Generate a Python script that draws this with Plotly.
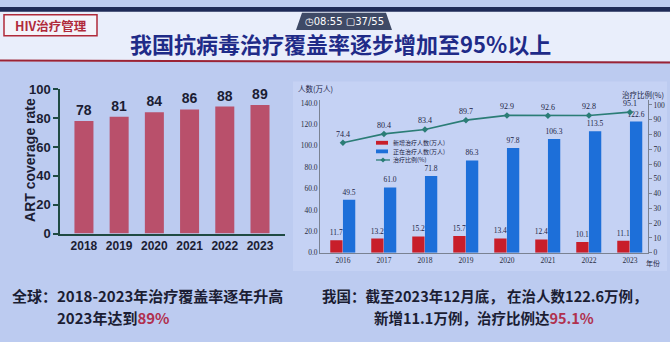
import plotly.graph_objects as go

# ---- data ----
global_years = ["2018", "2019", "2020", "2021", "2022", "2023"]
global_coverage = [78, 81, 84, 86, 88, 89]

cn_years = ["2016", "2017", "2018", "2019", "2020", "2021", "2022", "2023"]
cn_new = [11.7, 13.2, 15.2, 15.7, 13.4, 12.4, 10.1, 11.1]
cn_on = [49.5, 61.0, 71.8, 86.3, 97.8, 106.3, 113.5, 122.6]
cn_ratio = [74.4, 80.4, 83.4, 89.7, 92.9, 92.6, 92.8, 95.1]
legend_names = ["新增治疗人数(万人)", "正在治疗人数(万人)", "治疗比例(%)"]

W, H = 670, 342
def px(x): return x / W
def py(y): return 1 - y / H

BG = "#bccbf0"
DARK = "#1b1d33"
CJK = "Noto Sans CJK SC"
SANS = "Liberation Sans"
SERIF = "Liberation Serif"
RED = "#c81e2a"
BLUE = "#1d6fd9"
TEAL = "#2b7d76"

fig = go.Figure()

# left chart bars
fig.add_trace(go.Bar(
    x=global_years, y=global_coverage, xaxis="x", yaxis="y",
    marker=dict(color="#b9506b", line=dict(width=0)), width=0.54,
    text=global_coverage, textposition="outside", cliponaxis=False, constraintext="none",
    textfont=dict(family=SANS, size=14, color=DARK, weight="bold"), showlegend=False,
))

# right chart bars
fig.add_trace(go.Bar(
    x=cn_years, y=cn_new, xaxis="x2", yaxis="y2", name=legend_names[0],
    marker=dict(color=RED, line=dict(width=0)), width=0.3, offset=-0.31,
    text=[f"{v:.1f}" for v in cn_new], textposition="outside", cliponaxis=False,
    constraintext="none",
    textfont=dict(family=SERIF, size=7.5, color="#1c1f45"), showlegend=False,
))
fig.add_trace(go.Bar(
    x=cn_years, y=cn_on, xaxis="x2", yaxis="y2", name=legend_names[1],
    marker=dict(color=BLUE, line=dict(width=0)), width=0.3, offset=0.0,
    text=[f"{v:.1f}" for v in cn_on], textposition="outside", cliponaxis=False,
    constraintext="none",
    textfont=dict(family=SERIF, size=7.5, color="#1c1f45"), showlegend=False,
))
fig.add_trace(go.Scatter(
    x=cn_years, y=cn_ratio, xaxis="x2", yaxis="y3", name=legend_names[2],
    mode="lines+markers+text", line=dict(color=TEAL, width=1.6),
    marker=dict(symbol="diamond", size=5, color=TEAL),
    text=[f"{v:.1f}" for v in cn_ratio], textposition="top center", cliponaxis=False,
    textfont=dict(family=SERIF, size=8, color="#1c1f45"), showlegend=False,
))

axis_col = "#1f4a42"
grey = "#7a8292"

layout = dict(
    width=W, height=H, margin=dict(l=0, r=0, t=0, b=0),
    paper_bgcolor=BG, plot_bgcolor="rgba(0,0,0,0)",
    barmode="overlay", showlegend=False,
    xaxis=dict(domain=[px(60), px(285)], range=[-0.68, 5.71], type="category",
               showline=True, linecolor=axis_col, linewidth=1.5, ticks="",
               tickfont=dict(family=SANS, size=12, color=DARK, weight="bold"), showgrid=False,
               anchor="y"),
    yaxis=dict(domain=[py(237), py(86)], range=[0, 100], tickvals=[0, 20, 40, 60, 80, 100],
               showline=True, linecolor=axis_col, linewidth=1.5, ticks="outside",
               ticklen=5, tickcolor=axis_col, tickwidth=1.5,
               tickfont=dict(family=SANS, size=13, color=DARK, weight="bold"), showgrid=False,
               zeroline=False, anchor="x"),
    xaxis2=dict(domain=[px(320), px(648)], range=[-0.56, 7.44], type="category",
                showline=True, linecolor=grey, linewidth=1, ticks="",
                tickfont=dict(family=SERIF, size=7.5, color="#2a2d40"), showgrid=False,
                anchor="y2"),
    yaxis2=dict(domain=[py(257), py(97)], range=[0, 143], tickvals=list(range(0, 141, 20)),
                ticktext=[f"{v:.1f}" for v in range(0, 141, 20)],
                showline=True, linecolor=grey, linewidth=1, ticks="",
                tickfont=dict(family=SERIF, size=7.5, color="#2a2d40"), showgrid=False,
                zeroline=False, anchor="x2"),
    yaxis3=dict(domain=[py(257), py(97)], range=[0, 103.5], overlaying="y2", side="right",
                tickvals=list(range(0, 101, 10)),
                showline=True, linecolor=grey, linewidth=1, ticks="outside", ticklen=3,
                tickcolor=grey,
                tickfont=dict(family=SERIF, size=7.5, color="#2a2d40"), showgrid=False,
                zeroline=False, anchor="x2"),
    font=dict(family=CJK),
)

shapes = [
    # title band
    dict(type="rect", xref="paper", yref="paper", x0=0, x1=1, y0=py(57), y1=1,
         fillcolor="#e9eefb", line=dict(width=0), layer="below"),
    dict(type="rect", xref="paper", yref="paper", x0=0, x1=1, y0=py(5), y1=1,
         fillcolor="#1e2a57", line=dict(width=0), layer="below"),
    dict(type="line", xref="paper", yref="paper", x0=0, x1=1, y0=py(56), y1=py(58),
         line=dict(color="#9b2335", width=2)),
    # right chart panel
    dict(type="rect", xref="paper", yref="paper", x0=px(293), x1=px(667), y0=py(276), y1=py(78),
         fillcolor="#c5d2f4", line=dict(width=0), layer="below"),
    # HIV tag box
    dict(type="rect", xref="paper", yref="paper", x0=px(4), x1=px(97), y0=py(30), y1=py(8),
         fillcolor="#f4f4fa", line=dict(color="#b02a3a", width=1.5)),
    # timer tab
    dict(type="path", xref="paper", yref="paper",
         path=f"M {px(296)},{py(24)} L {px(302)},{py(6)} L {px(386)},{py(6)} L {px(392)},{py(24)} Z",
         fillcolor="#3f4a66", line=dict(width=0)),
    # manual legend markers
    dict(type="rect", xref="paper", yref="paper", x0=px(376), x1=px(388), y0=py(144), y1=py(140),
         fillcolor=RED, line=dict(width=0)),
    dict(type="rect", xref="paper", yref="paper", x0=px(376), x1=px(388), y0=py(153), y1=py(149),
         fillcolor=BLUE, line=dict(width=0)),
    dict(type="line", xref="paper", yref="paper", x0=px(376), x1=px(390), y0=py(160), y1=py(160),
         line=dict(color=TEAL, width=1.3)),
]

ann = [
    dict(text="<b>HIV治疗管理</b>", x=px(50.5), y=py(19), font=dict(size=12.5, color="#b02a3a", family=CJK)),
    dict(text="◷08:55 ▢37/55", x=px(344), y=py(15), font=dict(size=10, color="#ffffff", family="DejaVu Sans")),
    dict(text="<b>我国抗病毒治疗覆盖率逐步增加至95%以上</b>", x=px(340), y=py(38),
         font=dict(size=22, color="#1f2b88", family=CJK)),
    dict(text="<b>ART coverage rate</b>", x=px(30), y=py(160), textangle=-90,
         font=dict(size=14, color=DARK, family=SANS)),
    dict(text="人数(万人)", x=px(315), y=py(85), font=dict(size=7.5, color="#1c1f45", family=CJK)),
    dict(text="治疗比例(%)", x=px(643), y=py(91), font=dict(size=7.5, color="#1c1f45", family=CJK)),
    dict(text="年份", x=px(653), y=py(268), font=dict(size=7, color="#1c1f45", family=CJK)),
    dict(text=legend_names[0], x=px(391), y=py(142), xanchor="left", font=dict(size=6, color="#1c1f45", family=CJK)),
    dict(text=legend_names[1], x=px(391), y=py(151), xanchor="left", font=dict(size=6, color="#1c1f45", family=CJK)),
    dict(text=legend_names[2], x=px(391), y=py(160), xanchor="left", font=dict(size=6, color="#1c1f45", family=CJK)),
    dict(text="<b>全球：2018-2023年治疗覆盖率逐年升高</b>", x=px(10), y=py(302), xanchor="left",
         font=dict(size=15, color=DARK, family=CJK)),
    dict(text="<b>2023年达到<span style='color:#b0304e'>89%</span></b>", x=px(55), y=py(325), xanchor="left",
         font=dict(size=15, color=DARK, family=CJK)),
    dict(text="<b>我国：截至2023年12月底， 在治人数122.6万例，</b>", x=px(320), y=py(302), xanchor="left",
         font=dict(size=14.5, color=DARK, family=CJK)),
    dict(text="<b>新增11.1万例，治疗比例达<span style='color:#b0304e'>95.1%</span></b>", x=px(372), y=py(325),
         xanchor="left", font=dict(size=14.5, color=DARK, family=CJK)),
]
for a in ann:
    a.setdefault("xanchor", "center")
    a.update(xref="paper", yref="paper", yanchor="middle", showarrow=False)

# legend line marker
fig.add_trace(go.Scatter(x=[px(383)], y=[py(160)], xaxis="x9", yaxis="y9", mode="markers",
                         marker=dict(symbol="diamond", size=4, color=TEAL), showlegend=False,
                         hoverinfo="skip"))
layout["xaxis9"] = dict(domain=[0, 1], range=[0, 1], visible=False, anchor="y9")
layout["yaxis9"] = dict(domain=[0, 1], range=[0, 1], visible=False, anchor="x9")

layout["shapes"] = shapes
layout["annotations"] = ann
fig.update_layout(**layout)
fig.write_html("out.html")
